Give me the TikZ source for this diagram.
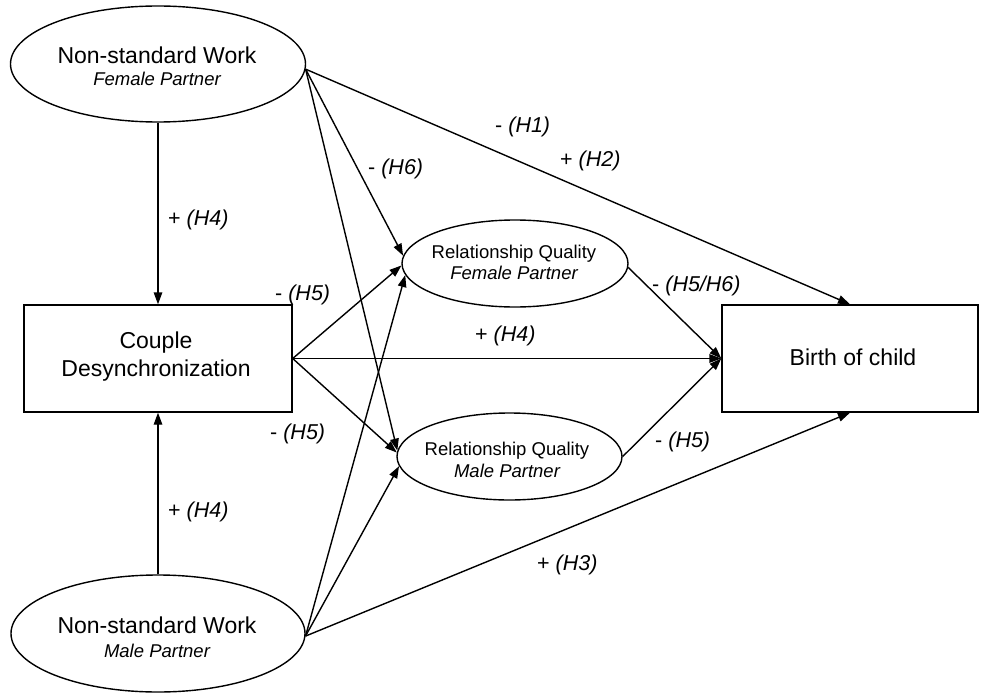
\documentclass[tikz,border=0pt]{standalone}
\usepackage{fontspec}
\setmainfont{Liberation Sans}
\usetikzlibrary{shapes.geometric,arrows.meta}
\begin{document}
\begin{tikzpicture}[x=1pt,y=-1pt,
  oval/.style={ellipse,draw,line width=1.4pt,inner sep=0pt},
  box/.style={rectangle,draw,line width=1.4pt,inner sep=0pt},
  big/.style={font=\fontsize{23}{27}\selectfont,anchor=base,inner sep=0pt},
  sub/.style={font=\fontsize{18.5}{22}\selectfont\itshape,anchor=base,inner sep=0pt},
  rq/.style={font=\fontsize{18.5}{22}\selectfont,anchor=base,inner sep=0pt},
  lab/.style={font=\fontsize{21.5}{25}\selectfont,anchor=base west,inner sep=0pt},
  conn/.style={line width=1.4pt,-{Triangle[length=12pt,width=8.5pt]}}]
\fill[white] (0,0) rectangle (981,695);
\useasboundingbox (0,0) rectangle (981,695);

\node[oval,minimum width=295pt,minimum height=116pt] (nwf) at (158,64) {};
\node[oval,minimum width=294pt,minimum height=117pt] (nwm) at (158,633.5) {};
\node[box,minimum width=268pt,minimum height=107pt] (couple) at (158,358.5) {};
\node[box,minimum width=256pt,minimum height=107pt] (birth) at (850,358.5) {};
\node[oval,minimum width=226pt,minimum height=87pt] (rqf) at (515,263.5) {};
\node[oval,minimum width=225pt,minimum height=87pt] (rqm) at (509.5,456.5) {};

\node[big] (t1) at (157,63.3) {Non-standard Work};
\node[sub] (t2) at (157,86) {Female Partner};
\node[big] (t3) at (156,348.3) {Couple};
\node[big] (t4) at (156,376) {Desynchronization};
\node[big] (t5) at (157,633) {Non-standard Work};
\node[sub] (t6) at (157,657) {Male Partner};
\node[rq] (t7) at (514,258) {Relationship Quality};
\node[sub] (t8) at (514,279) {Female Partner};
\node[rq] (t9) at (507,455.7) {Relationship Quality};
\node[sub] (t10) at (507,477) {Male Partner};
\node[big] (t11) at (853,365) {Birth of child};

\draw[conn] (nwf.south) -- (couple.north);
\draw[conn] (nwm.north) -- (couple.south);
\draw[conn] (nwf.-2) -- (birth.north);
\draw[conn] (nwf.-2) -- (rqf.176);
\draw[conn] (nwf.-2) -- (rqm.177);
\draw[conn] (couple.east) -- (rqf.181);
\draw[conn] (couple.east) -- (birth.west);
\draw[conn] (couple.east) -- (rqm.178);
\draw[conn] (nwm.-1) -- (rqf.186);
\draw[conn] (nwm.-1) -- (rqm.185);
\draw[conn] (nwm.-1) -- (birth.south);
\draw[conn] (rqf.-2) -- (birth.west);
\draw[conn] (rqm.0) -- (birth.west);

\node[lab] (l1) at (495,133) {- \textit{(H1)}};
\node[lab] (l2) at (560,166) {+ \textit{(H2)}};
\node[lab] (l3) at (368,175) {- \textit{(H6)}};
\node[lab] (l4) at (168,225) {+ \textit{(H4)}};
\node[lab] (l5) at (275,300) {- \textit{(H5)}};
\node[lab] (l6) at (475,341) {+ \textit{(H4)}};
\node[lab] (l7) at (652,291.5) {- \textit{(H5/H6)}};
\node[lab] (l8) at (270,439) {- \textit{(H5)}};
\node[lab] (l9) at (655,447) {- \textit{(H5)}};
\node[lab] (l10) at (168,517) {+ \textit{(H4)}};
\node[lab] (l11) at (537,570.5) {+ \textit{(H3)}};
\end{tikzpicture}
\end{document}
